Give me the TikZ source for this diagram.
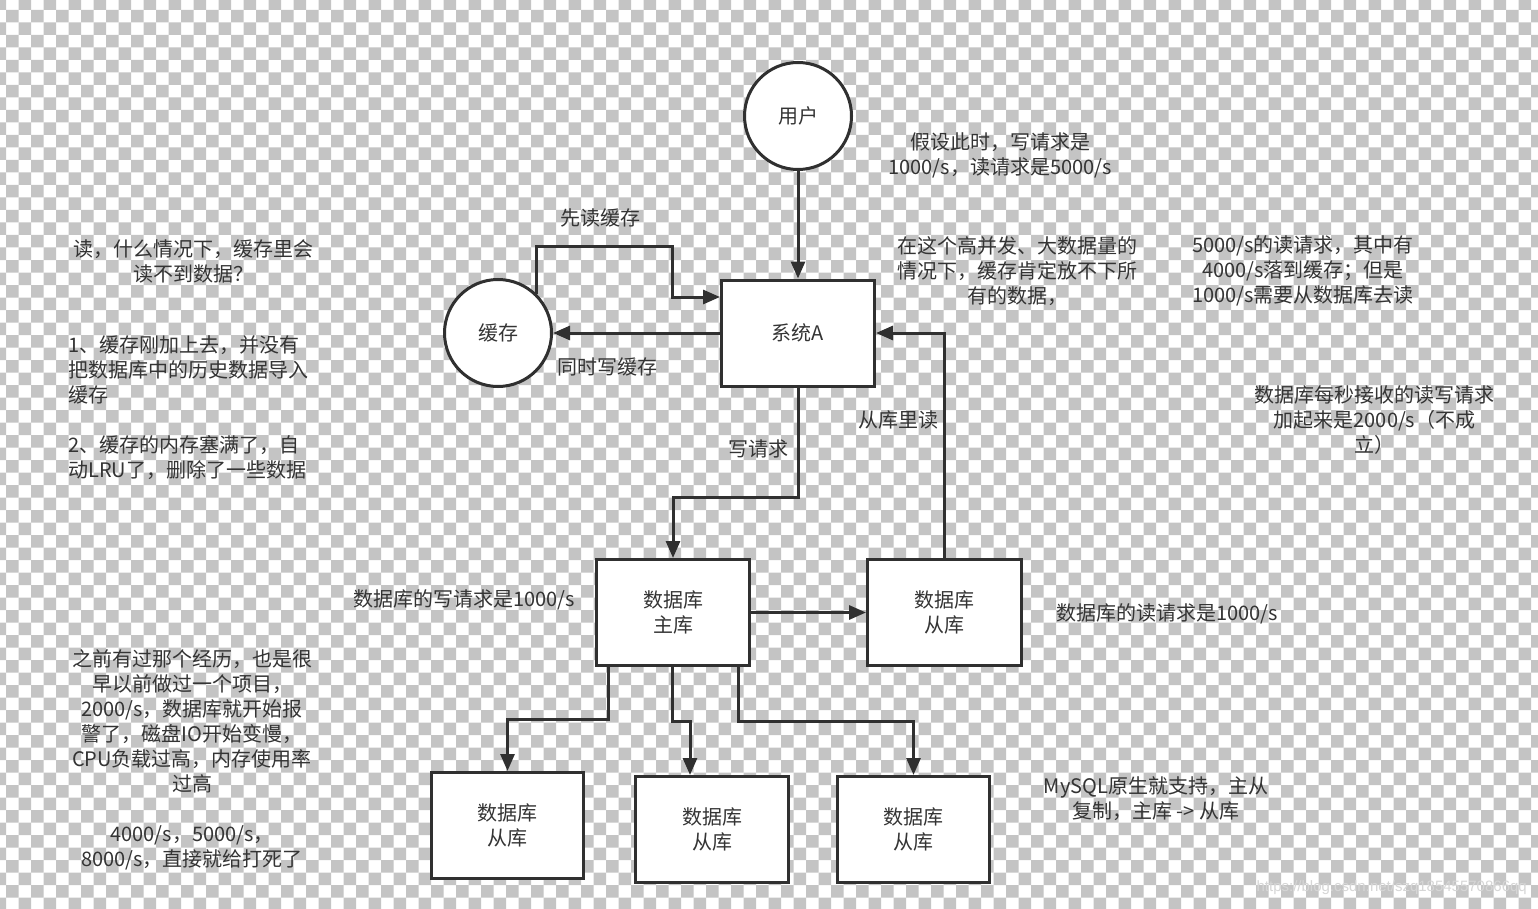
\documentclass[tikz,border=0pt]{standalone}
\usepackage{fontspec}
\setmainfont{Noto Sans CJK SC}
\newfontfamily\wmfont{Liberation Sans}
\usetikzlibrary{arrows.meta}
\definecolor{checker}{RGB}{196,196,196}
\definecolor{ink}{RGB}{48,48,48}
\definecolor{txt}{RGB}{52,52,52}
\definecolor{wm}{RGB}{214,214,214}
\begin{document}
\begin{tikzpicture}[x=1pt,y=-1pt,
  lbl/.style={font=\fontsize{20}{25}\selectfont, text=txt, inner sep=0pt, align=center},
  lbll/.style={font=\fontsize{20}{25}\selectfont, text=txt, inner sep=0pt, align=left, anchor=west},
  box/.style={draw=ink, line width=3pt, fill=white, inner sep=0pt, align=center,
    font=\fontsize{20}{25}\selectfont, text=txt, minimum width=153pt, minimum height=106pt},
  circ/.style={circle, draw=ink, line width=3pt, fill=white, inner sep=0pt,
    font=\fontsize{20}{25}\selectfont, text=txt, minimum size=107pt},
  arr/.style={draw=ink, line width=3pt, -{Triangle[length=17pt,width=14pt]}}]
\useasboundingbox (0,0) rectangle (1538,909);
% checkerboard background
\fill[white] (0,0) rectangle (1538,909);
\begin{scope}
\clip (0,0) rectangle (1538,909);
\foreach \j in {0,...,73}{
  \pgfmathtruncatemacro\o{mod(\j,2)}
  \fill[checker] foreach \i in {0,2,...,124} {(-6.5+12.5*\i+12.5*\o, -2.5+12.5*\j) rectangle ++(12.5,12.5)};
}
\end{scope}
% shapes
\node[circ] (user) at (798,116) {用户};
\node[box] (sysA) at (798,333) {系统A};
\node[circ] (cache) at (498,333) {缓存};
\node[box] (master) at (673,612.5) {数据库\\主库};
\node[box, minimum width=154pt] (slave) at (944.5,612.5) {数据库\\从库};
\node[box, minimum width=152pt] (s1) at (507.5,825.5) {数据库\\从库};
\node[box] (s2) at (712,829.5) {数据库\\从库};
\node[box, minimum width=152pt] (s3) at (913.5,829.5) {数据库\\从库};
% connectors
\coordinate (b1) at (672,247);
\draw[arr] (user.south) -- (sysA.north);
\draw[arr] (cache.45) |- (b1) |- ([yshift=36pt]sysA.west);
\draw[arr] (sysA.west) -- (cache.east);
\draw[arr] (sysA.south) -- ++(0,110) -| (master.north);
\draw[arr] (slave.north) |- (sysA.east);
\draw[arr] (master.east) -- (slave.west);
\draw[arr] ([xshift=-65pt]master.south) -- ++(0,52) -| (s1.north);
\draw[arr] ([xshift=-1pt]master.south) -- ++(0,54) -| ([xshift=-22pt]s2.north);
\draw[arr] ([xshift=65pt]master.south) -- ++(0,54) -| (s3.north);
% labels
\node[lbl] (l1) at (600,218) {先读缓存};
\node[lbl] (l2) at (607,367) {同时写缓存};
\node[lbl] (l3) at (758,449) {写请求};
\node[lbl] (l4) at (898,420) {从库里读};
\node[lbl] (t1) at (1000,155.5) {假设此时，写请求是\\1000/s，读请求是5000/s};
\node[lbl] (t2) at (1017,271) {在这个高并发、大数据量的\\情况下，缓存肯定放不下所\\有的数据，};
\node[lbl] (t3) at (1303,271) {5000/s的读请求，其中有\\4000/s落到缓存；但是\\1000/s需要从数据库去读};
\node[lbl] (t4) at (1374.5,420) {数据库每秒接收的读写请求\\加起来是2000/s（不成\\立）};
\node[lbl] (t5) at (193,261.5) {读，什么情况下，缓存里会\\读不到数据？};
\node[lbll] (t6) at (68,370) {1、缓存刚加上去，并没有\\把数据库中的历史数据导入\\缓存};
\node[lbll] (t7) at (68,457.5) {2、缓存的内存塞满了，自\\动LRU了，删除了一些数据};
\node[lbl] (t8) at (192,759.5) {之前有过那个经历，也是很\\早以前做过一个项目，\\2000/s，数据库就开始报\\警了，磁盘IO开始变慢，\\CPU负载过高，内存使用率\\过高\\[25pt]4000/s，5000/s，\\8000/s，直接就给打死了};
\node[lbl] (t9) at (464,600) {数据库的写请求是1000/s};
\node[lbl] (t10) at (1167,614) {数据库的读请求是1000/s};
\node[lbl] (t11) at (1156,798.5) {MySQL原生就支持，主从\\复制，主库 -> 从库};
\node[font=\wmfont\fontsize{15}{18}\selectfont, text=wm, inner sep=0pt, anchor=east] (wmark) at (1527,888) {https://blog.csdn.net/szq18545570866qq};
\end{tikzpicture}
\end{document}
